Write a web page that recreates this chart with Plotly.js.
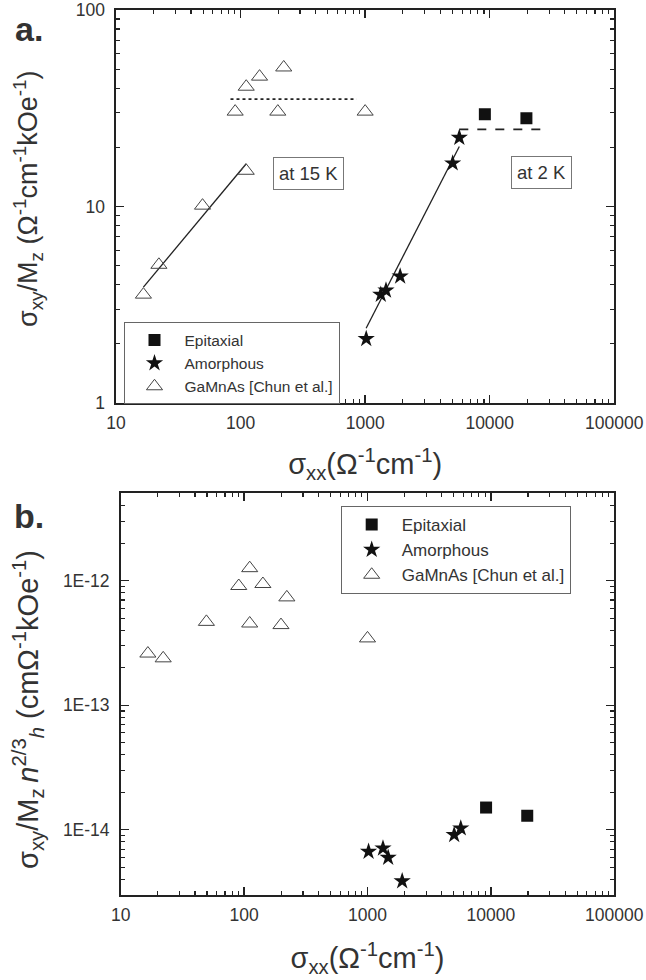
<!DOCTYPE html>
<html>
<head>
<meta charset="utf-8">
<script src="https://cdn.plot.ly/plotly-3.0.1.min.js"></script>
<style>html,body{margin:0;padding:0;background:#fff;}#chart{width:646px;height:980px;}</style>
</head>
<body>
<div id="chart"></div>
<script>
// ---- data ----
const xTickVals = [10, 100, 1000, 10000, 100000];
const xTickText = ['10', '100', '1000', '10000', '100000'];
const yaTickVals = [1, 10, 100];
const yaTickText = ['1', '10', '100'];
const ybTickVals = [1e-14, 1e-13, 1e-12];
const ybTickText = ['1E-14', '1E-13', '1E-12'];

const seriesNames = ['Epitaxial', 'Amorphous', 'GaMnAs [Chun et al.]'];

// Epitaxial (squares)
const epSxx = [9140, 19700];
const epA = [29.5, 28.1];
const epB = [1.51e-14, 1.30e-14];

// Amorphous (stars)
const amSxx = [1020, 1335, 1470, 1910, 5040, 5700];
const amA = [2.12, 3.56, 3.74, 4.41, 16.6, 22.4];
const amB = [6.69e-15, 7.11e-15, 5.99e-15, 3.88e-15, 9.12e-15, 1.03e-14];

// GaMnAs [Chun et al.] (open triangles)
const gaSxx = [16.6, 22.1, 49.5, 111, 90.5, 111, 142, 199, 222, 1000];
const gaA = [3.56, 5.05, 10.1, 15.2, 30.4, 40.7, 45.8, 30.4, 51, 30.4];
const gaB = [2.60e-13, 2.38e-13, 4.67e-13, 4.53e-13, 9.06e-13, 1.26e-12, 9.4e-13, 4.40e-13, 7.34e-13, 3.44e-13];

// guide lines in panel a
const fit15x = [16.6, 111], fit15y = [3.89, 16.5];
const sat15x = [83, 853], sat15y = [35.2, 35.2];
const fit2x = [1018, 5700], fit2y = [2.40, 20.2];
const sat2x = [5700, 27500], sat2y = [24.7, 24.7];

// ---- styles ----
const FONT = 'Arial, "Liberation Sans", "DejaVu Sans", sans-serif';
const INK = '#222';
const mkSq = {symbol: 'square', size: 12, color: '#111'};
const mkStar = {symbol: 'star', size: 13, color: '#111', line: {width: 0}};
const mkTri = {symbol: 'triangle-up-open', size: 14, color: '#444', line: {width: 1, color: '#444'}};

function lineTrace(x, y, dash, xa, ya) {
  return {x: x, y: y, mode: 'lines', xaxis: xa, yaxis: ya, showlegend: false,
          line: {color: INK, width: dash === 'solid' ? 1.3 : 1.8, dash: dash}, hoverinfo: 'skip'};
}

const traces = [
  lineTrace(fit15x, fit15y, 'solid', 'x', 'y'),
  lineTrace(sat15x, sat15y, 'dot', 'x', 'y'),
  lineTrace(fit2x, fit2y, 'solid', 'x', 'y'),
  lineTrace(sat2x, sat2y, 'dash', 'x', 'y'),
  {x: epSxx, y: epA, name: seriesNames[0], mode: 'markers', marker: mkSq, xaxis: 'x', yaxis: 'y', legend: 'legend'},
  {x: amSxx, y: amA, name: seriesNames[1], mode: 'markers', marker: mkStar, xaxis: 'x', yaxis: 'y', legend: 'legend'},
  {x: gaSxx, y: gaA, name: seriesNames[2], mode: 'markers', marker: mkTri, xaxis: 'x', yaxis: 'y', legend: 'legend'},
  {x: epSxx, y: epB, name: seriesNames[0], mode: 'markers', marker: mkSq, xaxis: 'x2', yaxis: 'y2', legend: 'legend2'},
  {x: amSxx, y: amB, name: seriesNames[1], mode: 'markers', marker: mkStar, xaxis: 'x2', yaxis: 'y2', legend: 'legend2'},
  {x: gaSxx, y: gaB, name: seriesNames[2], mode: 'markers', marker: mkTri, xaxis: 'x2', yaxis: 'y2', legend: 'legend2'}
];

function logAxis(range, domain, tickvals, ticktext, anchor, standoff) {
  return {
    type: 'log', range: range, domain: domain, anchor: anchor,
    tickmode: 'array', tickvals: tickvals, ticktext: ticktext,
    ticks: 'inside', ticklen: 8, tickwidth: 1.3, tickcolor: INK,
    showline: true, linecolor: INK, linewidth: 1.6, mirror: 'allticks',
    showgrid: false, zeroline: false,
    ticklabelstandoff: standoff,
    tickfont: {family: FONT, size: 17.5, color: '#333'},
    minor: {ticks: 'inside', ticklen: 4, tickwidth: 1.1, tickcolor: INK, dtick: 'D1', showgrid: false}
  };
}

const xTitle = 'σ<sub>xx</sub>(Ω<sup>-1</sup>cm<sup>-1</sup>)';

const layout = {
  width: 646, height: 980,
  margin: {l: 0, r: 0, t: 0, b: 0},
  paper_bgcolor: '#fff', plot_bgcolor: '#fff',
  font: {family: FONT, color: '#333'},
  xaxis: Object.assign(logAxis([1, 5], [116/646, 614.3/646], xTickVals, xTickText, 'y', 3),
    {title: {text: xTitle, font: {family: FONT, size: 29, color: '#333'}, standoff: 22}}),
  yaxis: logAxis([0, 2], [1 - 403/980, 1 - 10/980], yaTickVals, yaTickText, 'x', 6),
  xaxis2: Object.assign(logAxis([1, 5], [120.7/646, 614.3/646], xTickVals, xTickText, 'y2', 3),
    {title: {text: xTitle, font: {family: FONT, size: 29, color: '#333'}, standoff: 24}}),
  yaxis2: logAxis([-14.523, -11.294], [1 - 895/980, 1 - 492.7/980], ybTickVals, ybTickText, 'x2', 6),
  legend: {
    x: 123.5/646, y: 1 - 322.4/980, xanchor: 'left', yanchor: 'top',
    bordercolor: '#666', borderwidth: 1, bgcolor: '#fff',
    font: {family: FONT, size: 15.5, color: '#333'}, itemwidth: 50, tracegroupgap: 0
  },
  legend2: {
    x: 340.7/646, y: 1 - 506/980, xanchor: 'left', yanchor: 'top',
    bordercolor: '#666', borderwidth: 1, bgcolor: '#fff',
    font: {family: FONT, size: 17, color: '#333'}, itemwidth: 50, tracegroupgap: 0
  },
  annotations: [
    {text: '<b>a.</b>', xref: 'paper', yref: 'paper', x: 29/646, y: 1 - 29/980, xanchor: 'center', yanchor: 'middle',
     showarrow: false, font: {family: FONT, size: 34, color: '#333'}},
    {text: '<b>b.</b>', xref: 'paper', yref: 'paper', x: 29/646, y: 1 - 516/980, xanchor: 'center', yanchor: 'middle',
     showarrow: false, font: {family: FONT, size: 34, color: '#333'}},
    {text: 'σ<sub>xy</sub>/M<sub>z</sub> (Ω<sup>-1</sup>cm<sup>-1</sup>kOe<sup>-1</sup>)', xref: 'paper', yref: 'paper',
     x: 28/646, y: 1 - 199/980, xanchor: 'center', yanchor: 'middle', textangle: -90,
     showarrow: false, font: {family: FONT, size: 27, color: '#333'}},
    {text: 'σ<sub>xy</sub>/M<sub>z</sub>\u2009<i>n</i><sup>2/3</sup><sub><i>h</i></sub> (cmΩ<sup>-1</sup>kOe<sup>-1</sup>)', xref: 'paper', yref: 'paper',
     x: 28/646, y: 1 - 710/980, xanchor: 'center', yanchor: 'middle', textangle: -90,
     showarrow: false, font: {family: FONT, size: 29, color: '#333'}},
    {text: 'at 15 K', xref: 'x', yref: 'y', x: 2.543, y: 1.167, xanchor: 'center', yanchor: 'middle',
     showarrow: false, bordercolor: '#777', borderwidth: 1, borderpad: 5, bgcolor: '#fff',
     font: {family: FONT, size: 18.5, color: '#333'}},
    {text: 'at 2 K', xref: 'x', yref: 'y', x: 4.416, y: 1.172, xanchor: 'center', yanchor: 'middle',
     showarrow: false, bordercolor: '#777', borderwidth: 1, borderpad: 5, bgcolor: '#fff',
     font: {family: FONT, size: 18.5, color: '#333'}}
  ]
};

Plotly.newPlot('chart', traces, layout, {staticPlot: true, displayModeBar: false});
</script>
</body>
</html>
